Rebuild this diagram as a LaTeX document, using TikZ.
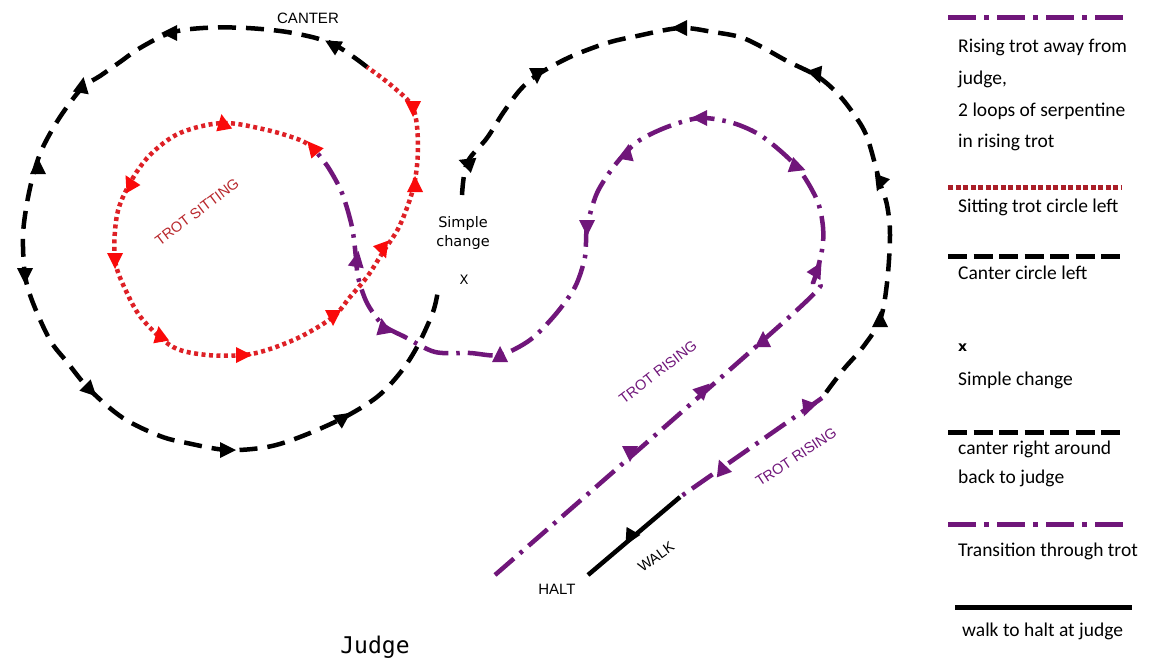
\documentclass[tikz,border=0pt]{standalone}
\usepackage{fontspec}
\setmainfont{Carlito}
\newfontfamily\labfont{Liberation Sans}
\newfontfamily\djfont{DejaVu Sans}
\newfontfamily\judgefont{DejaVu Sans Mono}
\definecolor{purp}{RGB}{112,22,122}
\definecolor{redd}{RGB}{222,32,38}
\definecolor{redarrow}{RGB}{250,10,10}
\definecolor{redtext}{RGB}{185,40,45}
\definecolor{redleg}{RGB}{170,30,40}
\tikzset{
  canter/.style={line width=4.5pt, dash pattern=on 18pt off 10pt},
  trot/.style={purp, line width=4.5pt, dash pattern=on 25pt off 8pt on 3.5pt off 8pt},
  sitting/.style={redd, line width=4.5pt, dash pattern=on 4pt off 3.5pt},
  walkline/.style={line width=4.5pt},
  legtext/.style={anchor=west, inner sep=0pt, font=\fontsize{19.5}{22}\selectfont},
  maplab/.style={inner sep=0pt, font=\labfont\fontsize{15}{17}\selectfont},
  rotlab/.style={inner sep=0pt, font=\labfont\fontsize{14.5}{16}\selectfont},
}
\newcommand{\tri}[4]{\fill[#4, shift={(#1,#2)}, rotate=#3] (9,0) -- (-7,8) -- (-7,-8) -- cycle;}
\begin{document}
\begin{tikzpicture}[x=1pt, y=-1pt]
\useasboundingbox (0,0) rectangle (1158,661);
\fill[white] (0,0) rectangle (1158,661);

% ---------- canter circle left ----------
\draw[canter] plot[smooth, tension=0.55] coordinates {
 (367,67) (333,44) (293,33) (247,28) (203,28) (170,33) (140,48) (120,62) (100,76) (82,88)
 (60,117) (43,147) (34,172) (27,203) (23,236) (25,275) (33,303) (50,340) (67,362)
 (90,390) (123,418) (160,436) (187,443) (227,450) (267,447) (300,437) (343,418)
 (377,397) (400,373) (417,347) (433,312) (438,290)};

% ---------- sitting trot circle (red) ----------
\draw[sitting] plot[smooth, tension=0.55] coordinates {
 (313,148) (300,140) (267,130) (223,123) (180,133) (150,155) (130,183) (117,215)
 (115,260) (127,293) (143,320) (173,347) (207,355) (243,355) (267,350) (300,337)
 (333,317) (350,297) (367,277) (383,252) (400,225) (414,185) (418,145) (413,108)
 (392,86) (367,67)};

% ---------- rising trot and serpentine (purple) ----------
\draw[trot] plot[smooth, tension=0.5] coordinates {
 (495,575) (797,310) (813,283) (822,250) (823,227) (817,200) (797,167) (763,137)
 (733,123) (700,118) (667,127) (637,142) (615,165) (597,193) (587,227) (585,257)
 (575,287) (555,315) (530,340) (500,355) (470,353) (435,352) (405,337) (383,325)
 (367,303) (358,277) (356,258) (352,227) (342,193) (328,167) (313,148)};

% ---------- canter right around ----------
\draw[canter] plot[smooth, tension=0.55] coordinates {
 (462,195) (467,163) (487,138) (503,113) (520,90) (537,75) (570,57) (607,43) (637,36)
 (680,28) (713,32) (740,37) (760,46) (787,61) (817,76) (837,93) (853,113) (867,137)
 (880,183) (887,205) (890,235) (887,283) (880,320) (863,347) (843,370) (822,398)};

% ---------- transition through trot ----------
\draw[trot] (822,398) -- (680,497);
% ---------- walk ----------
\draw[walkline] (680,497) -- (588,575);

% ---------- arrowheads ----------
% canter left
\tri{333}{45}{150}{black}
\tri{170}{33}{180}{black}
\tri{82}{86}{80}{black}
\tri{38}{167}{90}{black}
\tri{25}{275}{270}{black}
\tri{90}{390}{315}{black}
\tri{227}{450}{0}{black}
\tri{343}{418}{35}{black}
% canter right
\tri{467}{163}{160}{black}
\tri{537}{75}{270}{black}
\tri{680}{28}{180}{black}
\tri{817}{75}{290}{black}
\tri{880}{183}{250}{black}
\tri{880}{320}{90}{black}
% red
\tri{413}{108}{270}{redarrow}
\tri{415}{185}{90}{redarrow}
\tri{383}{250}{290}{redarrow}
\tri{333}{317}{270}{redarrow}
\tri{243}{355}{0}{redarrow}
\tri{160}{335}{100}{redarrow}
\tri{115}{260}{270}{redarrow}
\tri{130}{183}{120}{redarrow}
\tri{223}{123}{100}{redarrow}
\tri{313}{148}{130}{redarrow}
% purple
\tri{357}{260}{80}{purp}
\tri{383}{327}{100}{purp}
\tri{500}{355}{90}{purp}
\tri{587}{227}{270}{purp}
\tri{627}{153}{80}{purp}
\tri{700}{118}{180}{purp}
\tri{797}{167}{340}{purp}
\tri{817}{270}{60}{purp}
\tri{763}{340}{90}{purp}
\tri{703}{390}{45}{purp}
\tri{630}{453}{270}{purp}
\tri{807}{408}{250}{purp}
\tri{722}{468}{110}{purp}
\tri{630}{537}{240}{black}

% ---------- map labels ----------
\node[maplab] (canterlab) at (308,18) {CANTER};
\node[inner sep=0pt, font=\djfont\fontsize{14.5}{17}\selectfont, align=center] (simple) at (463,233) {Simple\\[2pt]change};
\node[inner sep=0pt, font=\djfont\fontsize{13}{15}\selectfont] (xlab) at (464,280) {X};
\node[rotlab, redtext, rotate=37] (trotsit) at (197,212) {TROT SITTING};
\node[rotlab, purp, rotate=37.5] (trotr1) at (658,372) {TROT RISING};
\node[rotlab, purp, rotate=33.5] (trotr2) at (796,457) {TROT RISING};
\node[rotlab, rotate=36] (walklab) at (656,557) {WALK};
\node[maplab] (halt) at (557,589) {HALT};
\node[inner sep=0pt, font=\judgefont\fontsize{23}{26}\selectfont] (judge) at (375,647) {Judge};

% ---------- legend ----------
\draw[purp, line width=5pt, dash pattern=on 28pt off 8pt on 5pt off 8pt] (948,18) -- (1125,18);
\node[legtext] (l1) at (958,47) {Rising trot away from};
\node[legtext] (l2) at (958,79) {judge,};
\node[legtext] (l3) at (958,111) {2 loops of serpentine};
\node[legtext] (l4) at (958,142) {in rising trot};
\draw[redleg, line width=5pt, dash pattern=on 5pt off 2.5pt] (948,187) -- (1122,187);
\node[legtext] (l5) at (958,207) {Sitting trot circle left};
\draw[line width=5pt, dash pattern=on 19pt off 6.5pt] (948,256) -- (1120,256);
\node[legtext] (l6) at (958,273) {Canter circle left};
\node[legtext, font=\djfont\bfseries\fontsize{14}{16}\selectfont] (l7) at (958,348) {x};
\node[legtext] (l8) at (958,380) {Simple change};
\draw[line width=5pt, dash pattern=on 19pt off 6.5pt] (948,432) -- (1120,432);
\node[legtext] (l9) at (958,449) {canter right around};
\node[legtext] (l10) at (958,478) {back to judge};
\draw[purp, line width=5pt, dash pattern=on 28pt off 8pt on 5pt off 8pt] (948,524) -- (1125,524);
\node[legtext] (l11) at (958,551) {Transition through trot};
\draw[line width=5pt] (955,607) -- (1132,607);
\node[legtext] (l12) at (962,631) {walk to halt at judge};
\end{tikzpicture}
\end{document}
